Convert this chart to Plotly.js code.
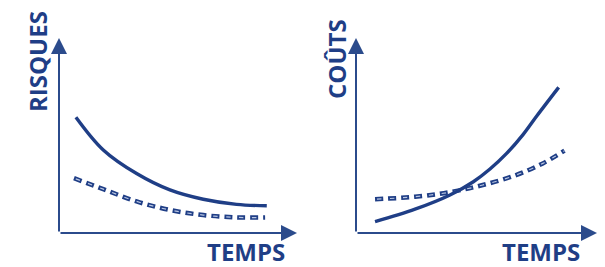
<!DOCTYPE html>
<html><head><meta charset="utf-8">
<script src="https://cdn.plot.ly/plotly-3.0.1.min.js"></script>
<style>html,body{margin:0;padding:0;background:#fff}#c{width:605px;height:267px}</style>
</head><body><div id="c"></div>
<script>
// Left chart: RISQUES vs TEMPS
const riskX = [0.71, 1.86, 3.26, 4.66, 6.06, 7.46, 8.73];
const riskSolid = [5.94, 4.26, 3.05, 2.21, 1.73, 1.47, 1.40];
const riskDashX = [0.63, 1.86, 3.26, 4.66, 6.06, 7.46, 8.66];
const riskDashed = [2.81, 2.25, 1.62, 1.18, 0.92, 0.80, 0.80];
// Right chart: COÛTS vs TEMPS
const costX = [0.79, 2.45, 3.90, 4.87, 5.56, 6.25, 6.94, 7.50, 8.41];
const costSolid = [0.58, 1.22, 1.95, 2.63, 3.28, 4.08, 5.06, 6.00, 7.47];
const costDashX = [0.79, 2.45, 3.87, 5.26, 6.64, 7.75, 8.65];
const costDashed = [1.73, 1.86, 2.09, 2.46, 2.97, 3.57, 4.22];
const titles = {left: 'RISQUES', right: 'COÛTS', x: 'TEMPS'};

const navy = '#1f3e86';
const axisCol = '#2b4b8c';
const W = 605, H = 267;

function solid(x, y, xa, ya) {
  return {x, y, xaxis: xa, yaxis: ya, mode: 'lines', line: {color: navy, width: 3.4, shape: 'spline', smoothing: 1}, hoverinfo: 'skip'};
}
function dashed(x, y, xa, ya) {
  return [
    {x, y, xaxis: xa, yaxis: ya, mode: 'lines', line: {color: navy, width: 4.5, dash: '8px,5px', shape: 'spline', smoothing: 1}, hoverinfo: 'skip'},
    {x, y, xaxis: xa, yaxis: ya, mode: 'lines', line: {color: '#b9c6e2', width: 1.2, dash: '0px,1.8px,4.4px,6.8px', shape: 'spline', smoothing: 1}, hoverinfo: 'skip'}
  ];
}

const data = [
  solid(riskX, riskSolid, 'x', 'y'),
  ...dashed(riskDashX, riskDashed, 'x', 'y'),
  ...dashed(costDashX, costDashed, 'x2', 'y2'),
  solid(costX, costSolid, 'x2', 'y2')
];

const yDom = [(H - 233) / H, (H - 38) / H];
const ax = {range: [0, 10], showgrid: false, zeroline: false, showticklabels: false, ticks: '', showline: false, fixedrange: true};

function arrow(xref, yref, x, y) {
  return {xref, yref, axref: xref, ayref: yref, x, y, ax: 0, ay: 0, text: '', showarrow: true,
          arrowhead: 2, arrowsize: 1.6, arrowwidth: 2, arrowcolor: axisCol, standoff: 0, startstandoff: 0};
}
function label(text, px, py, angle) {
  return {xref: 'paper', yref: 'paper', x: px / W, y: 1 - py / H, xanchor: 'center', yanchor: 'middle',
          text: '<b>' + text + '</b>', showarrow: false, textangle: angle || 0, borderpad: 0,
          font: {family: 'Open Sans', size: 24, color: navy}};
}

const layout = {
  width: W, height: H,
  margin: {l: 0, r: 0, t: 0, b: 0},
  paper_bgcolor: '#fff', plot_bgcolor: '#fff',
  showlegend: false,
  xaxis: Object.assign({}, ax, {domain: [59 / W, 297 / W], anchor: 'y'}),
  yaxis: Object.assign({}, ax, {domain: yDom, anchor: 'x'}),
  xaxis2: Object.assign({}, ax, {domain: [356 / W, 597 / W], anchor: 'y2'}),
  yaxis2: Object.assign({}, ax, {domain: yDom, anchor: 'x2'}),
  annotations: [
    arrow('x', 'y', 10, 0), arrow('x', 'y', 0, 10),
    arrow('x2', 'y2', 10, 0), arrow('x2', 'y2', 0, 10),
    label(titles.left, 37, 62, -90),
    label(titles.right, 337, 59, -90),
    label(titles.x, 246, 251),
    label(titles.x, 541, 251)
  ]
};

Plotly.newPlot('c', data, layout, {staticPlot: true, displayModeBar: false});
</script></body></html>
